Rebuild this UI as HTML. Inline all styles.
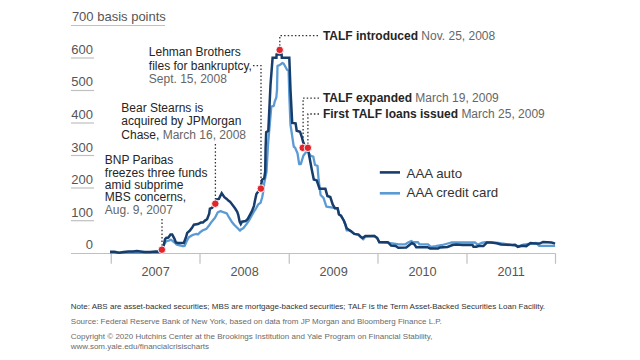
<!DOCTYPE html>
<html><head><meta charset="utf-8"><style>
html,body{margin:0;padding:0;background:#fff;}
svg{display:block;}
text{font-family:"Liberation Sans",sans-serif;}
.ax{fill:#555;font-size:13px;}
.yr{fill:#555;font-size:12.7px;}
.an{fill:#252525;font-size:12px;}
.gr{fill:#666;}
.b{font-weight:bold;}
.ft{font-size:8px;}
</style></head><body>
<svg width="640" height="360" viewBox="0 0 640 360">
<rect width="640" height="360" fill="#fff"/>
<g stroke="#c0c0c0" stroke-width="1.2">
<line x1="71" y1="25.5" x2="165" y2="25.5"/>
<line x1="71" y1="58" x2="94" y2="58"/>
<line x1="71" y1="90.5" x2="94" y2="90.5"/>
<line x1="71" y1="123" x2="94" y2="123"/>
<line x1="71" y1="155.5" x2="94" y2="155.5"/>
<line x1="71" y1="188" x2="94" y2="188"/>
<line x1="71" y1="220.7" x2="94" y2="220.7"/>
<line x1="71" y1="253.5" x2="555.5" y2="253.5"/>
<line x1="111.25" y1="253.5" x2="111.25" y2="263.8"/>
<line x1="200" y1="253.5" x2="200" y2="263.8"/>
<line x1="289.25" y1="253.5" x2="289.25" y2="263.8"/>
<line x1="378" y1="253.5" x2="378" y2="263.8"/>
<line x1="467" y1="253.5" x2="467" y2="263.8"/>
<line x1="555.5" y1="253.5" x2="555.5" y2="263.8"/>
</g>
<text class="ax" x="71.9" y="21.3">700 basis points</text>
<g class="ax" text-anchor="end">
<text x="93" y="54">600</text>
<text x="93" y="86.3">500</text>
<text x="93" y="119">400</text>
<text x="93" y="151.6">300</text>
<text x="93" y="184">200</text>
<text x="93" y="216.6">100</text>
<text x="93" y="249.2">0</text>
</g>
<g class="yr" text-anchor="middle">
<text x="155.6" y="275.6">2007</text>
<text x="244.6" y="275.6">2008</text>
<text x="333.6" y="275.6">2009</text>
<text x="422.5" y="275.6">2010</text>
<text x="511.2" y="275.6">2011</text>
</g>
<!-- dotted leaders -->
<g stroke="#333" stroke-width="1.3" stroke-dasharray="1.5 2.1" fill="none">
<line x1="162" y1="219" x2="162" y2="246"/>
<line x1="215.4" y1="144" x2="215.4" y2="200"/>
<polyline points="253,65.6 261,65.6 261,186"/>
<polyline points="318,35.7 279.8,35.7 279.8,46"/>
<polyline points="319,98.1 303.1,98.1 303.1,144"/>
<polyline points="319,114 307.9,114 307.9,144"/>
</g>
<!-- series -->
<polyline points="110,252.8 160,252.8 163.9,245 166.3,241.25 169.7,240.4 170.9,239.6 174.6,242.5 176.75,244.6 179.7,245.4 183,246.25 184.7,245.8 186.8,241 188.9,237.3 192.2,235.2 196,234 198,234.4 200.8,231.7 202.9,230.3 206.4,228.9 209.4,225 211.7,221.7 215,217.8 217.8,212.2 220.6,211.1 223.3,212.2 226.7,213.3 228.9,217.2 231.7,221.7 234.4,225 237.2,227.8 240,230.6 241.1,229.4 243.3,228.3 246.7,223.9 248.9,220.6 251.1,216.7 253.9,211.7 256.1,208.3 258.3,204.4 260.6,202.8 262.2,197.2 263,193 264.2,183.3 266.5,171.7 268,145 271.3,106.7 273.8,105.8 274.7,101.7 276.3,97.5 277,90 277.5,65.8 279.6,65.1 282.4,63 283.75,63.75 287.2,70 288.6,70.7 289.3,95 290.5,125 291.3,130 293,141.7 293.8,146.7 295,147.5 297.5,153.3 299.2,164.2 300.8,164.2 303.3,155.8 305.8,152.5 307.5,150.8 310.8,155.8 313.3,156.7 315,165 317.5,165.8 318.6,179.5 320.6,195 323.5,197.9 326.4,206.7 335.6,208.2 337.6,208.6 339,214.4 341.1,215.8 343.9,220.7 345.3,224.5 346.7,230.4 348.75,230 350.8,231.1 354.3,233.9 358.5,234.6 360.6,236.7 363.3,239.4 365.4,236.5 374.4,236 377.2,238 379.3,242.2 388.9,242.8 392.2,243.3 398.75,244.4 405,244.4 408.1,242.5 411.25,241 413.1,242.25 418.1,242.25 419.4,244.4 428.1,244.4 430.6,246.9 435.6,246.25 442.5,245 451.25,242.5 475,242.5 477.7,244.7 481.3,243 485.5,242.2 498.1,243 519.2,246.1 523.4,244.7 529.1,244 536.1,243 538.9,245.8 555.1,245.8" fill="none" stroke="#5b9bd5" stroke-width="2.3" stroke-linejoin="round"/>
<polyline points="110,251.8 114.4,251.8 119,252.7 123.7,252 128.4,251.4 133.1,251.4 136.9,250.9 140.6,251.4 144.4,252 150,252 155.6,251.4 160.5,251.6 163.5,246 165.1,239.2 166.3,237.9 168.4,237.5 170.5,234.6 172.2,234.6 174.25,238.3 175.9,242.5 178,242.9 183.8,242.9 185.9,237.5 187.2,232.9 189.7,230.8 192,227.8 193.9,224.7 198,224 200.8,222.6 202.9,222.6 205,220.6 207.1,219.2 209.2,213.6 209.9,208.75 212.2,207.8 214.4,204.4 216.7,199.4 218.9,198.9 221.7,193.3 224.4,197.2 226.7,198.9 228.3,200.6 230,201.7 232.2,204.4 235,208.3 237.2,211.7 238.3,215 239.6,221.5 240.8,224 242,221.7 245.6,221.1 247.8,218.9 251.7,211.7 253.9,206.1 255,200.6 256.4,194 260.3,188.8 262.2,179.5 264.2,178.5 265.2,171.7 265.6,147.8 266.2,132.2 268.3,130.8 270.5,85 272.6,57.8 276.4,57.8 276.6,54.5 281.6,54.5 281.8,57.8 289.3,57.8 290.5,90 292.2,122.9 295.6,123.3 296.7,130.8 300,131.7 301.7,136.7 303.3,142.5 305,146.7 308.3,150.8 310,160 311.8,169.7 313.8,179.5 316.7,180.4 319.6,188.8 325.4,188.8 327.4,196 330.3,197 332.8,204.7 334.9,208.2 337.6,208.2 339,214.4 341.1,215.8 343.9,220.7 345.3,224.2 346.7,228.3 348.75,229.7 350.8,231.1 354.3,233.9 358.5,234.6 360.6,236.7 362.6,238 365.4,236 374.4,236 377.2,238 379.3,242.2 387.8,242.2 391.1,245.6 395.6,245.9 398.3,247.8 406.25,247.5 408.75,245.6 411.9,243.1 414.4,244.4 416.25,247.25 427.5,247.25 430,248.5 438.1,248.5 440,247.5 447.5,246.9 452.5,245 456.25,244.4 462.5,245 472.5,245 473.5,246.8 476.3,246.8 478.4,246.1 483.4,246.1 486.9,242.6 491.1,242.6 496.7,243.3 500.9,244.4 506.6,244.7 512.2,245 515,244.7 517.8,246.8 522,245.8 526.3,246.1 530.5,243 534.7,243.6 539.6,243.6 543.1,241.9 551.6,242.6 555.1,243.6" fill="none" stroke="#173d6c" stroke-width="2.5" stroke-linejoin="miter" stroke-miterlimit="3"/>
<g fill="#e2252b" stroke="#fff" stroke-width="0.9">
<circle cx="161.9" cy="249.7" r="3.75"/>
<circle cx="215.3" cy="203.7" r="3.75"/>
<circle cx="260.9" cy="188.6" r="3.75"/>
<circle cx="279.7" cy="49.9" r="3.75"/>
<circle cx="302.7" cy="147.8" r="3.75"/>
<circle cx="307.9" cy="147.8" r="3.75"/>
</g>
<!-- annotations -->
<g class="an">
<text x="104.8" y="164">BNP Paribas</text>
<text x="104.8" y="176.6">freezes three funds</text>
<text x="104.8" y="188.9">amid subprime</text>
<text x="104.8" y="201.3">MBS concerns,</text>
<text x="104.8" y="214" class="gr">Aug. 9, 2007</text>
<text x="121.3" y="111.9">Bear Stearns is</text>
<text x="121.3" y="125.4">acquired by JPMorgan</text>
<text x="121.3" y="138.8">Chase, <tspan class="gr">March 16, 2008</tspan></text>
<text x="148.8" y="56.2">Lehman Brothers</text>
<text x="148.8" y="69.6">files for bankruptcy,</text>
<text x="148.8" y="83.1" class="gr">Sept. 15, 2008</text>
<text x="322.9" y="39.6"><tspan class="b">TALF introduced</tspan> <tspan class="gr">Nov. 25, 2008</tspan></text>
<text x="322.9" y="101.5"><tspan class="b">TALF expanded</tspan> <tspan class="gr">March 19, 2009</tspan></text>
<text x="322.9" y="117.6"><tspan class="b">First TALF loans issued</tspan> <tspan class="gr">March 25, 2009</tspan></text>
</g>
<!-- legend -->
<line x1="379.8" y1="172.4" x2="400" y2="172.4" stroke="#173d6c" stroke-width="2.6"/>
<line x1="379.8" y1="193.3" x2="400" y2="193.3" stroke="#5b9bd5" stroke-width="2.6"/>
<text class="an" style="font-size:13.3px;fill:#333" x="406.6" y="177.6">AAA auto</text>
<text class="an" style="font-size:13.3px;fill:#333" x="406.6" y="197.4">AAA credit card</text>
<!-- footer -->
<g class="ft">
<text x="70.8" y="309.1" fill="#333">Note: ABS are asset-backed securities; MBS are mortgage-backed securities; TALF is the Term Asset-Backed Securities Loan Facility.</text>
<text x="70.8" y="324.2" fill="#6a6a6a">Source: Federal Reserve Bank of New York, based on data from JP Morgan and Bloomberg Finance L.P.</text>
<text x="70.8" y="338.5" fill="#6a6a6a">Copyright © 2020 Hutchins Center at the Brookings Institution and Yale Program on Financial Stability,</text>
<text x="70.8" y="349.3" fill="#6a6a6a">www.som.yale.edu/financialcrisischarts</text>
</g>
</svg>
</body></html>
